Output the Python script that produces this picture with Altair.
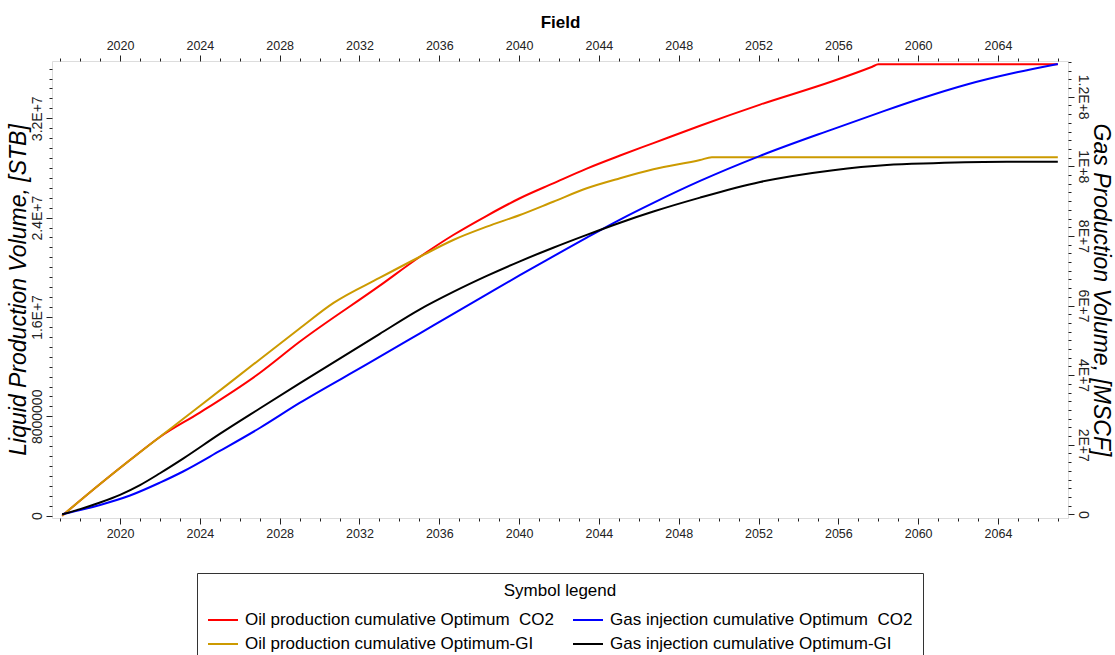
import altair as alt
import pandas as pd

# ---- data (values in millions) ----
S_OIL_CO2 = "Oil production cumulative Optimum\u00a0 CO2"
S_GAS_CO2 = "Gas injection cumulative Optimum\u00a0 CO2"
S_OIL_GI = "Oil production cumulative Optimum-GI"
S_GAS_GI = "Gas injection cumulative Optimum-GI"

oil_co2_years = [2017.1, 2019.0, 2020.5, 2022.0, 2024.0, 2027.0, 2029.0, 2033.0, 2035.03, 2036.7,
                 2038.38, 2040.04, 2041.71, 2043.39, 2045.06, 2046.73, 2049.07, 2052.08, 2055.74,
                 2057.7, 2058.0, 2067.0]
oil_co2_vals = [0, 2.55, 4.48, 6.34, 8.3, 11.49, 14.0, 18.5, 20.85, 22.6,
                24.15, 25.56, 26.76, 27.95, 29.0, 30.0, 31.4, 33.1, 35.0,
                36.15, 36.34, 36.34]

oil_gi_years = [2017.1, 2019.0, 2020.5, 2024.0, 2027.0, 2029.0, 2030.7, 2033.0, 2035.03, 2036.7,
                2038.38, 2040.04, 2041.71, 2043.39, 2045.06, 2046.73, 2049.07, 2049.66, 2067.0]
oil_gi_vals = [0, 2.55, 4.48, 8.83, 12.58, 15.07, 17.13, 19.14, 20.85, 22.2,
               23.27, 24.21, 25.28, 26.36, 27.17, 27.89, 28.64, 28.86, 28.86]

gas_co2_years = [2017.1, 2018.0, 2019.0, 2020.5, 2022.0, 2023.16, 2025.0, 2027.0, 2029.0, 2032.4,
                 2035.03, 2036.7, 2038.38, 2040.04, 2041.71, 2043.39, 2045.06, 2046.73, 2049.07,
                 2052.08, 2055.74, 2058.1, 2060.1, 2062.44, 2064.95, 2067.0]
gas_co2_vals = [0, 1.2, 2.7, 5.4, 9.1, 12.3, 18.2, 24.8, 32.0, 43.2,
                52.0, 57.6, 63.2, 68.7, 74.1, 79.5, 84.7, 89.5, 95.8,
                103.0, 110.7, 115.5, 119.4, 123.5, 127.0, 129.4]

gas_gi_years = [2017.1, 2018.0, 2019.0, 2020.0, 2021.0, 2022.0, 2023.16, 2025.0, 2027.0, 2029.0,
                2033.0, 2035.03, 2036.7, 2038.38, 2040.04, 2041.71, 2043.39, 2045.06, 2046.73,
                2049.07, 2052.08, 2055.74, 2058.43, 2060.75, 2064.45, 2067.0]
gas_gi_vals = [0, 1.5, 3.4, 5.6, 8.4, 11.8, 16.0, 23.1, 30.4, 37.6,
               51.8, 58.9, 63.9, 68.5, 72.7, 76.6, 80.3, 83.8, 87.0,
               91.0, 95.5, 98.9, 100.4, 100.9, 101.3, 101.3]

series_names = [S_OIL_CO2, S_OIL_GI, S_GAS_CO2, S_GAS_GI]
series_colors = ["#ff0000", "#cc9a00", "#0000ff", "#000000"]

left_tick_values = [0, 8000000, 16000000, 24000000, 32000000]
left_tick_labels = ["0", "8000000", "1.6E+7", "2.4E+7", "3.2E+7"]
right_tick_values = [0, 20000000, 40000000, 60000000, 80000000, 100000000, 120000000]
right_tick_labels = ["0", "2E+7", "4E+7", "6E+7", "8E+7", "1E+8", "1.2E+8"]


def rows(name, years, vals):
    return [{"year": y, "value": v * 1e6, "series": name} for y, v in zip(years, vals)]


oil_df = pd.DataFrame(rows(S_OIL_CO2, oil_co2_years, oil_co2_vals) + rows(S_OIL_GI, oil_gi_years, oil_gi_vals))
gas_df = pd.DataFrame(rows(S_GAS_CO2, gas_co2_years, gas_co2_vals) + rows(S_GAS_GI, gas_gi_years, gas_gi_vals))


def label_expr(values, labels):
    expr = "''"
    for v, l in reversed(list(zip(values, labels))):
        expr = f"datum.value === {v} ? '{l}' : ({expr})"
    return expr


SANS = "Liberation Sans, Arial"
TICK = "#222222"

x_scale = alt.Scale(domain=[2016.59, 2067.51], nice=False, zero=False)
x_minor = list(range(2017, 2068))
x_tick_size = {"condition": {"test": "datum.value % 4 === 0", "value": 6}, "value": 3}

x_common = dict(values=x_minor, format="d", labelExpr="datum.value % 4 === 0 ? datum.label : ''",
                tickSize=x_tick_size, tickColor=TICK, domain=False, grid=False,
                labelFont=SANS, labelFontSize=12.5, labelColor="#222", labelOverlap=False,
                labelFlush=False, labelPadding=3)

x_bottom = alt.Axis(orient="bottom", title=None, **x_common)
x_top = alt.Axis(orient="top", title="Field", titleFont=SANS, titleFontSize=17, titleFontWeight="bold",
                 titleColor="#000", titlePadding=8, **x_common)

left_minor = [i * 800000 for i in range(0, 46)]
left_axis = alt.Axis(
    orient="left", values=left_minor, labelExpr=label_expr(left_tick_values, left_tick_labels),
    tickSize={"condition": {"test": "datum.value % 8000000 === 0", "value": 6}, "value": 3},
    tickColor=TICK, domain=False, grid=False, labelAngle=270, labelAlign="center", labelBaseline="bottom",
    labelFont=SANS, labelFontSize=14, labelColor="#222", labelOverlap=False, labelFlush=False, labelPadding=2,
    title="Liquid Production Volume, [STB]", titleFont=SANS, titleFontSize=23, titleFontStyle="italic",
    titleFontWeight="normal", titleColor="#000", titlePadding=0)

right_minor = [i * 2500000 for i in range(0, 53)]
right_axis = alt.Axis(
    orient="right", values=right_minor, labelExpr=label_expr(right_tick_values, right_tick_labels),
    tickSize={"condition": {"test": "datum.value % 20000000 === 0", "value": 6}, "value": 3},
    tickColor=TICK, domain=False, grid=False, labelAngle=90, labelAlign="center", labelBaseline="bottom",
    labelFont=SANS, labelFontSize=14, labelColor="#222", labelOverlap=False, labelFlush=False, labelPadding=1,
    title="Gas Production Volume, [MSCF]", titleFont=SANS, titleFontSize=23, titleFontStyle="italic",
    titleFontWeight="normal", titleColor="#000", titlePadding=-1)

color = alt.Color(
    "series:N",
    scale=alt.Scale(domain=series_names, range=series_colors),
    legend=alt.Legend(
        title="Symbol legend", orient="none", legendX=145, legendY=512, columns=2,
        symbolType="stroke", symbolSize=900, symbolStrokeWidth=2, labelFont=SANS, labelFontSize=17,
        labelColor="#000", labelLimit=0, titleFont=SANS, titleFontSize=17, titleFontWeight="normal",
        titleColor="#000", titleAnchor="middle", strokeColor="#333", padding=10, rowPadding=-4,
        columnPadding=15, labelOffset=6, titlePadding=4),
)

oil = alt.Chart(oil_df).mark_line(strokeWidth=2, interpolate="monotone").encode(
    x=alt.X("year:Q", scale=x_scale, axis=x_bottom),
    y=alt.Y("value:Q", scale=alt.Scale(domain=[-185000, 36610000], nice=False, zero=False), axis=left_axis),
    color=color,
)

gas = alt.Chart(gas_df).mark_line(strokeWidth=2, interpolate="monotone").encode(
    x=alt.X("year:Q", scale=x_scale, axis=x_top),
    y=alt.Y("value:Q", scale=alt.Scale(domain=[-1060000, 130260000], nice=False, zero=False), axis=right_axis),
    color=color,
)

chart = alt.layer(oil, gas).resolve_scale(y="independent").resolve_axis(x="independent", y="independent").properties(
    width=1016, height=457,
    padding={"left": 52, "top": 61, "right": 47, "bottom": 137},
    autosize=alt.AutoSizeParams(type="none"),
).configure_view(stroke="#ff3a3a", strokeWidth=1.5).configure(background="white")

chart.save("out.html", embed_options={"renderer": "svg", "actions": False})
